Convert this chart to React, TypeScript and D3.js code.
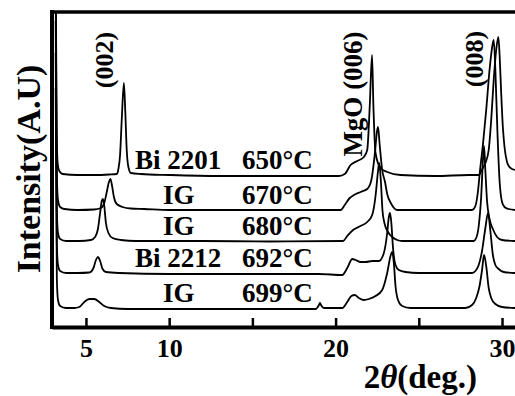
import React, { useRef, useEffect } from 'react';
import * as d3 from 'd3';

// 2θ (deg) vs intensity (A.U.), each scan relative to its own baseline
const scan650 = [
  [3.18, 220], [3.24, 40], [3.3, 12], [3.4, 4], [3.6, 1], [4.5, 0], [5.5, 0], [6.4, 0.5], [6.85, 1],
  [6.95, 6], [7.05, 20], [7.15, 55], [7.28, 92], [7.36, 65], [7.45, 25], [7.55, 8], [7.7, 2], [8.3, 1],
  [10, 0], [13, -1], [16, -1], [19, -1], [20.2, -1], [20.55, 1], [20.9, 10], [21.3, 14], [21.7, 18],
  [21.9, 25], [22.05, 68], [22.19, 120], [22.27, 70], [22.4, 22], [22.7, 7], [23.1, 3], [23.9, 0],
  [26, -1], [28, 0], [28.62, 0], [28.75, 4], [29.0, 12], [29.2, 25], [29.35, 55], [29.5, 95],
  [29.65, 125], [29.78, 138], [29.86, 118], [29.95, 82], [30.05, 48], [30.15, 28], [30.3, 13],
  [30.45, 8], [30.6, 6], [30.8, 5],
];
const scan670 = [
  [3.18, 220], [3.25, 35], [3.32, 10], [3.45, 3], [3.7, 1], [4.5, 0], [5.5, 0.5], [5.9, 2], [6.1, 7],
  [6.25, 18], [6.38, 28], [6.47, 31], [6.56, 25], [6.68, 13], [6.85, 6], [7.2, 3], [7.7, 1.5], [8.5, 1],
  [10, 0], [14, 0], [18, 0], [20.3, 0], [20.55, 5], [20.85, 12], [21.1, 15], [21.5, 18], [21.9, 21],
  [22.15, 30], [22.35, 55], [22.5, 80], [22.55, 83], [22.65, 65], [22.8, 40], [22.97, 28], [23.1, 16],
  [23.35, 6], [23.7, 0], [25, 0], [27, 0], [28.2, 0], [28.4, 4], [28.55, 18], [28.68, 40], [28.85, 65],
  [29.05, 100], [29.25, 140], [29.4, 162], [29.5, 170], [29.6, 140], [29.72, 80], [29.85, 30],
  [30.0, 8], [30.15, 3], [30.4, 1], [30.8, 0],
];
const scan680 = [
  [3.18, 220], [3.25, 30], [3.32, 8], [3.45, 2], [3.8, 0], [4.6, 0], [5.3, 1], [5.55, 4], [5.72, 12],
  [5.85, 28], [5.95, 40], [6.02, 42], [6.1, 35], [6.2, 18], [6.35, 8], [6.6, 3], [7.1, 1], [8, 0],
  [12, 0], [16, -0.5], [20.45, 0], [20.7, 5], [21.05, 11], [21.5, 15], [21.9, 19], [22.2, 26],
  [22.4, 45], [22.55, 70], [22.62, 78], [22.72, 60], [22.82, 30], [22.95, 17], [23.15, 9], [23.4, 4],
  [23.7, 1], [24, 0], [26, 0], [28.3, 0], [28.45, 3], [28.6, 15], [28.75, 45], [28.85, 80],
  [28.92, 95], [29.0, 70], [29.1, 40], [29.25, 22], [29.45, 12], [29.7, 4], [30, 1], [30.8, 0],
];
const scan692 = [
  [3.18, 220], [3.25, 30], [3.32, 8], [3.45, 2], [3.8, 0], [4.5, 0], [5.2, 0.5], [5.45, 5], [5.6, 13],
  [5.72, 16], [5.85, 12], [6.0, 4], [6.2, 1], [7, 0], [10, -1], [15, -1], [19, -1], [20.4, -2],
  [20.7, 5], [21.0, 14], [21.2, 13], [21.5, 11], [21.8, 11], [22.2, 12], [22.6, 12], [22.9, 20],
  [23.1, 40], [23.2, 56], [23.27, 60], [23.35, 50], [23.45, 25], [23.6, 8], [23.8, 3], [24.2, 1],
  [25, 0], [27, 0], [28.2, 0], [28.4, 2], [28.6, 8], [28.8, 22], [29.0, 45], [29.16, 60], [29.3, 42],
  [29.45, 18], [29.6, 8], [29.8, 4], [30.1, 1], [30.8, 0],
];
const scan699 = [
  [3.18, 220], [3.25, 30], [3.32, 8], [3.45, 2], [3.8, 0], [4.3, 0], [4.6, 1], [4.9, 6], [5.2, 9],
  [5.5, 9], [5.8, 6], [6.1, 2], [6.5, 0], [7.5, -1], [12, -1], [18.8, -1], [19.0, 3], [19.06, 5],
  [19.12, 3], [19.3, 0], [20.4, 0], [20.7, 6], [20.95, 12], [21.15, 13], [21.4, 10], [21.7, 8],
  [22.0, 9], [22.4, 12], [22.8, 18], [23.1, 35], [23.3, 52], [23.4, 56], [23.5, 45], [23.6, 22],
  [23.75, 8], [24, 2], [24.5, 0], [27, 0], [27.8, 0], [28.2, 3], [28.45, 10], [28.65, 22], [28.8, 38],
  [28.92, 53], [29.05, 42], [29.2, 20], [29.35, 10], [29.6, 4], [30, 1], [30.8, 0],
];

const scans = [scan650, scan670, scan680, scan692, scan699];
const samples = ['Bi 2201', 'IG', 'IG', 'Bi 2212', 'IG'];
const temps = ['650', '670', '680', '692', '699'];
const offsets = [152, 117, 86, 54, 19];

const xTicks = [5, 10, 15, 20, 25, 30];
const xTickLabels = ['5', '10', '', '20', '', '30'];

const peaks = [
  { label: '(002)', theta: 6.65, y: 60 },
  { label: 'MgO (006)', theta: 21.6, y: 94 },
  { label: '(008)', theta: 28.85, y: 59 },
];

const FONT = '"Liberation Serif", "Times New Roman", serif';

const XrdChart = () => {
  const ref = useRef(null);

  useEffect(() => {
    const svg = d3.select(ref.current);
    svg.selectAll('*').remove();

    const left = 52, right = 515, top = 12, bottom = 327;

    const x = d3.scaleLinear().domain([2.96, 30.78]).range([left, right]);
    const y = d3.scaleLinear().domain([0, 315]).range([bottom, top]);

    svg.append('defs').append('clipPath').attr('id', 'plot-clip')
      .append('rect')
      .attr('x', left).attr('y', top)
      .attr('width', right - left).attr('height', bottom - top);

    // traces
    const line = d3.line()
      .x(d => x(d[0]))
      .y(d => y(d[1]))
      .curve(d3.curveMonotoneX);

    svg.append('g')
      .attr('clip-path', 'url(#plot-clip)')
      .selectAll('path')
      .data(scans)
      .join('path')
      .attr('d', (s, i) => line(s.map(p => [p[0], p[1] + offsets[i]])))
      .attr('fill', 'none')
      .attr('stroke', '#000')
      .attr('stroke-width', 1.8)
      .attr('stroke-linejoin', 'round');

    // frame
    svg.append('line')
      .attr('x1', left - 2).attr('x2', right)
      .attr('y1', top).attr('y2', top)
      .attr('stroke', '#000').attr('stroke-width', 3.5);
    svg.append('line')
      .attr('x1', left).attr('x2', left)
      .attr('y1', top - 2).attr('y2', bottom + 2)
      .attr('stroke', '#000').attr('stroke-width', 4);

    // x axis with inward ticks
    const xAxis = svg.append('g')
      .attr('transform', `translate(0,${bottom})`)
      .call(d3.axisBottom(x)
        .tickValues(xTicks)
        .tickFormat((d, i) => xTickLabels[i])
        .tickSizeInner(-9)
        .tickSizeOuter(0)
        .tickPadding(12));
    xAxis.select('.domain').attr('stroke-width', 4);
    xAxis.selectAll('.tick line').attr('stroke-width', 2.5);
    xAxis.selectAll('.tick text')
      .attr('font-family', FONT)
      .attr('font-weight', 'bold')
      .attr('font-size', 26)
      .attr('fill', '#000');

    // sample labels
    const labels = svg.append('g')
      .attr('font-family', FONT)
      .attr('font-weight', 'bold')
      .attr('font-size', 27);
    samples.forEach((s, i) => {
      const ly = y(offsets[i]) - 6;
      labels.append('text')
        .attr('x', s.startsWith('Bi') ? 135 : 163)
        .attr('y', ly)
        .text(s);
      labels.append('text')
        .attr('x', 242)
        .attr('y', ly)
        .text(`${temps[i]}°C`);
    });

    // peak labels (rotated)
    peaks.forEach(p => {
      const bx = x(p.theta);
      svg.append('text')
        .attr('transform', `translate(${bx},${p.y}) rotate(-90)`)
        .attr('text-anchor', 'middle')
        .attr('font-family', FONT)
        .attr('font-weight', 'bold')
        .attr('font-size', p.label.length > 6 ? 27 : 26)
        .text(p.label);
    });

    // axis titles
    svg.append('text')
      .attr('transform', 'translate(40,169) rotate(-90)')
      .attr('text-anchor', 'middle')
      .attr('font-family', FONT)
      .attr('font-weight', 'bold')
      .attr('font-size', 34)
      .text('Intensity(A.U)');

    const xt = svg.append('text')
      .attr('x', 477)
      .attr('y', 388)
      .attr('text-anchor', 'end')
      .attr('font-family', FONT)
      .attr('font-weight', 'bold')
      .attr('font-size', 33);
    xt.append('tspan').text('2');
    xt.append('tspan').attr('font-style', 'italic').text('θ');
    xt.append('tspan').text('(deg.)');
  }, []);

  return (
    <svg
      ref={ref}
      width={515}
      height={396}
      style={{ position: 'absolute', left: 0, top: 0, background: '#fff' }}
    />
  );
};

export default function App() {
  return <XrdChart />;
}
